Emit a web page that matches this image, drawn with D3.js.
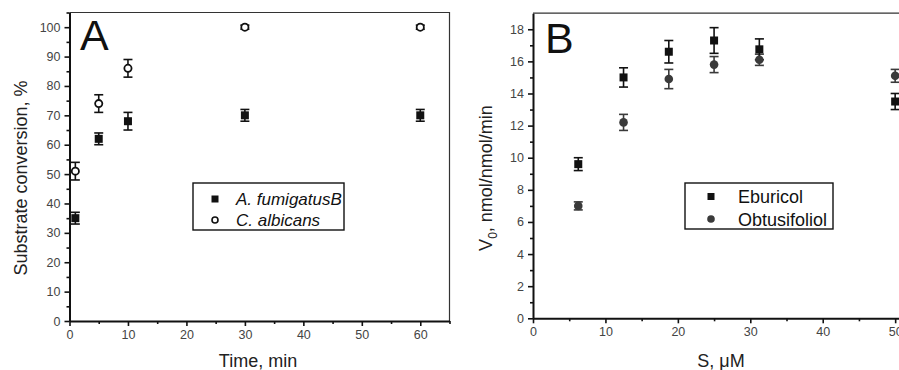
<!DOCTYPE html>
<html>
<head>
<meta charset="utf-8">
<script src="https://cdn.jsdelivr.net/npm/d3@7"></script>
<style>
  body { margin: 0; background: #fff; }
  svg { display: block; font-family: "Liberation Sans", Arial, sans-serif; }
</style>
</head>
<body>
<div id="chart"></div>
<script>
// Panel A data: substrate conversion over time
var timeA = [1, 5, 10, 30, 60];
var fumigatusY = [35, 62, 68, 70, 70];
var fumigatusErr = [2, 2, 3, 2, 2];
var albicansY = [51, 74, 86, 100, 100];
var albicansErr = [3, 3, 3, 0.7, 0.7];

// Panel B data: V0 vs substrate concentration
var concB = [6.25, 12.5, 18.75, 25, 31.25, 50];
var eburicolY = [9.6, 15.0, 16.6, 17.3, 16.75, 13.5];
var eburicolErr = [0.4, 0.6, 0.7, 0.8, 0.65, 0.5];
var obtusY = [7.0, 12.2, 14.9, 15.8, 16.1, 15.1];
var obtusErr = [0.25, 0.5, 0.6, 0.5, 0.35, 0.4];

var svgWidth = 899;
var svgHeight = 370;

var svg = d3.select("#chart")
  .append("svg")
  .attr("width", svgWidth)
  .attr("height", svgHeight);

// draw axes, border and ticks for one panel
function drawFrame(x, y, xMajor, xMinor, yMajor, yMinor) {
  var x0 = x.range()[0], x1 = x.range()[1];
  var y0 = y.range()[0], y1 = y.range()[1];

  // thin top and right border
  svg.append("path")
    .attr("d", `M${x0},${y1}H${x1}V${y0}`)
    .attr("fill", "none")
    .attr("stroke", "#333")
    .attr("stroke-width", 1.2);

  var bottom = svg.append("g")
    .attr("transform", `translate(0, ${y0})`)
    .call(d3.axisBottom(x).tickValues(xMajor).tickSize(5).tickSizeOuter(0).tickPadding(4));
  svg.append("g")
    .attr("transform", `translate(0, ${y0})`)
    .call(d3.axisBottom(x).tickValues(xMinor).tickSize(3).tickFormat("").tickSizeOuter(0))
    .select(".domain").remove();

  var left = svg.append("g")
    .attr("transform", `translate(${x0}, 0)`)
    .call(d3.axisLeft(y).tickValues(yMajor).tickSize(5).tickSizeOuter(0).tickPadding(4));
  svg.append("g")
    .attr("transform", `translate(${x0}, 0)`)
    .call(d3.axisLeft(y).tickValues(yMinor).tickSize(3).tickFormat("").tickSizeOuter(0))
    .select(".domain").remove();

  svg.selectAll(".domain").attr("stroke", "#111").attr("stroke-width", 2);
  svg.selectAll(".tick line").attr("stroke", "#111").attr("stroke-width", 1.6);
  svg.selectAll(".tick text")
    .attr("font-size", 12.5)
    .attr("fill", "#444")
    .attr("font-family", "Liberation Sans, Arial, sans-serif");
}

// error bars with caps
function drawErrors(xs, ys, errs, x, y, color) {
  var g = svg.append("g").attr("stroke", color).attr("stroke-width", 1.6);
  xs.forEach(function(d, i) {
    var cx = x(d);
    var top = y(ys[i] + errs[i]);
    var bot = y(ys[i] - errs[i]);
    g.append("line").attr("x1", cx).attr("x2", cx).attr("y1", top).attr("y2", bot);
    g.append("line").attr("x1", cx - 4.5).attr("x2", cx + 4.5).attr("y1", top).attr("y2", top);
    g.append("line").attr("x1", cx - 4.5).attr("x2", cx + 4.5).attr("y1", bot).attr("y2", bot);
  });
}

function drawSquares(xs, ys, x, y, color) {
  svg.append("g").selectAll("rect")
    .data(xs)
    .enter()
    .append("rect")
    .attr("x", (d) => x(d) - 4)
    .attr("y", (d, i) => y(ys[i]) - 4)
    .attr("width", 8)
    .attr("height", 8)
    .attr("fill", color);
}

function drawCircles(xs, ys, x, y, fill, stroke) {
  svg.append("g").selectAll("circle")
    .data(xs)
    .enter()
    .append("circle")
    .attr("cx", (d) => x(d))
    .attr("cy", (d, i) => y(ys[i]))
    .attr("r", fill === "#fff" ? 3.6 : 4.3)
    .attr("fill", fill)
    .attr("stroke", stroke)
    .attr("stroke-width", fill === "#fff" ? 1.8 : 0);
}

// ---------------- Panel A ----------------
var xA = d3.scaleLinear().domain([0, 65]).range([69.5, 449.5]);
var yA = d3.scaleLinear().domain([0, 105]).range([321, 12.5]);

drawFrame(xA, yA,
  d3.range(0, 61, 10), d3.range(5, 66, 10),
  d3.range(0, 101, 10), d3.range(5, 106, 10));

drawErrors(timeA, fumigatusY, fumigatusErr, xA, yA, "#111");
drawErrors(timeA, albicansY, albicansErr, xA, yA, "#111");
drawSquares(timeA, fumigatusY, xA, yA, "#111");
drawCircles(timeA, albicansY, xA, yA, "#fff", "#111");

svg.append("text")
  .attr("x", 80).attr("y", 50)
  .attr("font-size", 43)
  .attr("fill", "#111")
  .text("A");

svg.append("text")
  .attr("transform", "rotate(-90)")
  .attr("x", -178).attr("y", 27)
  .attr("text-anchor", "middle")
  .attr("font-size", 18)
  .attr("fill", "#222")
  .text("Substrate conversion, %");

svg.append("text")
  .attr("x", 258).attr("y", 367)
  .attr("text-anchor", "middle")
  .attr("font-size", 18)
  .attr("fill", "#222")
  .text("Time, min");

// legend A
var legA = svg.append("g");
legA.append("rect")
  .attr("x", 193).attr("y", 183).attr("width", 151).attr("height", 47)
  .attr("fill", "#fff").attr("stroke", "#111").attr("stroke-width", 1.4);
legA.append("rect").attr("x", 211.5).attr("y", 195.5).attr("width", 7).attr("height", 7).attr("fill", "#111");
legA.append("circle").attr("cx", 215).attr("cy", 220).attr("r", 3).attr("fill", "#fff")
  .attr("stroke", "#111").attr("stroke-width", 1.6);
legA.append("text").attr("x", 236).attr("y", 205).attr("font-size", 17)
  .attr("font-style", "italic").attr("fill", "#111").text("A. fumigatusB");
legA.append("text").attr("x", 236).attr("y", 226).attr("font-size", 17)
  .attr("font-style", "italic").attr("fill", "#111").text("C. albicans");

// ---------------- Panel B ----------------
var xB = d3.scaleLinear().domain([0, 51]).range([533, 902.4]);
var yB = d3.scaleLinear().domain([0, 19]).range([318.3, 13.2]);

drawFrame(xB, yB,
  d3.range(0, 51, 10), d3.range(5, 51, 10),
  d3.range(0, 19, 2), d3.range(1, 19, 2));

drawErrors(concB, obtusY, obtusErr, xB, yB, "#3a3a3a");
drawErrors(concB, eburicolY, eburicolErr, xB, yB, "#111");
drawCircles(concB, obtusY, xB, yB, "#3a3a3a", "none");
drawSquares(concB, eburicolY, xB, yB, "#111");

svg.append("text")
  .attr("x", 545).attr("y", 52.5)
  .attr("font-size", 43)
  .attr("fill", "#111")
  .text("B");

var yLabB = svg.append("text")
  .attr("transform", "rotate(-90)")
  .attr("x", -178).attr("y", 492)
  .attr("text-anchor", "middle")
  .attr("font-size", 18)
  .attr("fill", "#222");
yLabB.append("tspan").text("V");
yLabB.append("tspan").attr("font-size", 12).attr("dy", 5).text("0");
yLabB.append("tspan").attr("dy", -5).text(", nmol/nmol/min");

svg.append("text")
  .attr("x", 721).attr("y", 367)
  .attr("text-anchor", "middle")
  .attr("font-size", 18)
  .attr("fill", "#222")
  .text("S, \u03BCM");

// legend B
var legB = svg.append("g");
legB.append("rect")
  .attr("x", 685).attr("y", 183).attr("width", 148).attr("height", 46)
  .attr("fill", "#fff").attr("stroke", "#111").attr("stroke-width", 1.4);
legB.append("rect").attr("x", 707.5).attr("y", 193).attr("width", 7).attr("height", 7).attr("fill", "#111");
legB.append("circle").attr("cx", 711).attr("cy", 219).attr("r", 3.8).attr("fill", "#3a3a3a");
legB.append("text").attr("x", 738).attr("y", 203).attr("font-size", 18)
  .attr("fill", "#111").text("Eburicol");
legB.append("text").attr("x", 738).attr("y", 226).attr("font-size", 18)
  .attr("fill", "#111").text("Obtusifoliol");
</script>
</body>
</html>
